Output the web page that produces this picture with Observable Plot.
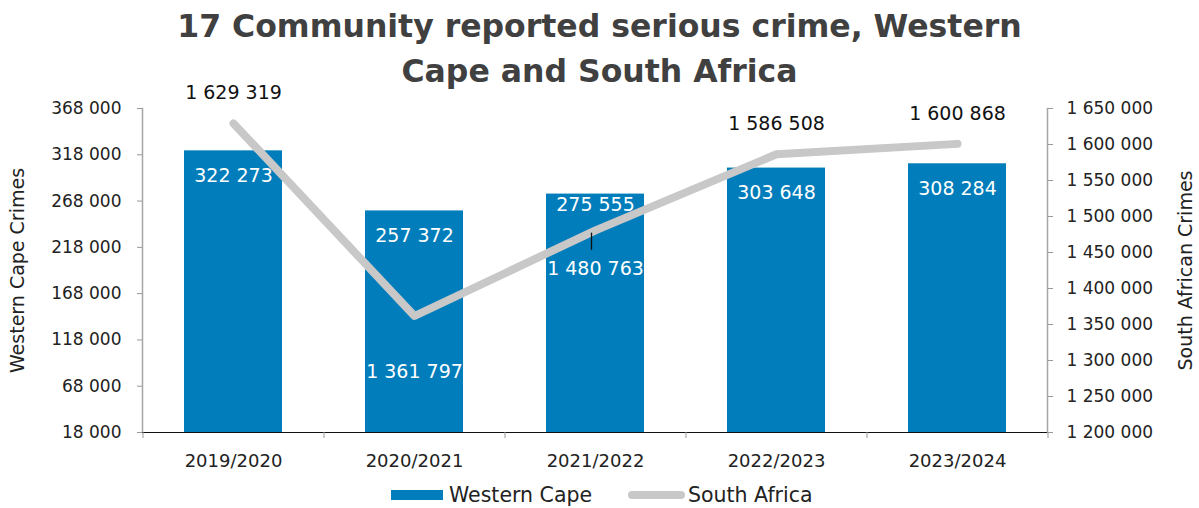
<!DOCTYPE html>
<html>
<head>
<meta charset="utf-8">
<script src="https://cdn.jsdelivr.net/npm/d3@7"></script>
<script src="https://cdn.jsdelivr.net/npm/@observablehq/plot@0.6"></script>
<style>
  html, body { margin: 0; padding: 0; background: #fff; }
  #wrap { position: relative; width: 1199px; height: 508px; overflow: hidden; font-family: "DejaVu Sans", sans-serif; }
  #title { position: absolute; left: 0; top: 4px; width: 1199px; text-align: center; font-weight: bold; font-size: 31.5px; line-height: 45px; color: #404040; z-index: 2; }
  #chart { position: absolute; left: 0; top: 0; }
  #legend { position: absolute; left: 0; top: 482px; width: 1199px; height: 26px; font-size: 20.5px; color: #222; }
  .sw { position: absolute; }
  .lt { position: absolute; top: 0px; line-height: 26px; }
</style>
</head>
<body>
<div id="wrap">
  <div id="title">17 Community reported serious crime, Western<br>Cape and South Africa</div>
  <div id="chart"></div>
  <div id="legend">
    <div class="sw" style="left:391px; top:8px; width:52px; height:10px; background:#007DBA;"></div>
    <div class="lt" style="left:449px;">Western Cape</div>
    <div class="sw" style="left:628px; top:9px; width:57px; height:8px; border-radius:4px; background:#C8C8C8;"></div>
    <div class="lt" style="left:688px;">South Africa</div>
  </div>
</div>
<script>
const years = ["2019/2020", "2020/2021", "2021/2022", "2022/2023", "2023/2024"];
const westernCape = [322273, 257372, 275555, 303648, 308284];
const southAfrica = [1629319, 1361797, 1480763, 1586508, 1600868];
const leftTicks = [18000, 68000, 118000, 168000, 218000, 268000, 318000, 368000];
const rightTicks = [1200000, 1250000, 1300000, 1350000, 1400000, 1450000, 1500000, 1550000, 1600000, 1650000];

const fmt = v => d3.format(",")(Math.round(v)).replace(/,/g, " ");
const L0 = leftTicks[0], L1 = leftTicks[leftTicks.length - 1];
const R0 = rightTicks[0], R1 = rightTicks[rightTicks.length - 1];
const toLeft = v => L0 + (v - R0) * (L1 - L0) / (R1 - R0);
const toRight = v => R0 + (v - L0) * (R1 - R0) / (L1 - L0);

const wc = years.map((y, i) => ({year: y, value: westernCape[i]}));
const sa = years.map((y, i) => ({year: y, value: southAfrica[i], left: toLeft(southAfrica[i])}));

const W = 1199, H = 482, ML = 142, MR = 152, MT = 108, MB = 50;
const step = (W - ML - MR) / years.length;

const above = new Set(["2019/2020", "2022/2023", "2023/2024"]);

const chart = Plot.plot({
  width: W, height: H,
  marginLeft: ML, marginRight: MR, marginTop: MT, marginBottom: MB,
  style: {fontFamily: "DejaVu Sans, sans-serif", fontSize: "17px", color: "#222", background: "transparent"},
  x: {domain: years, paddingInner: 0.46, paddingOuter: 0.23},
  y: {domain: [L0, L1]},
  marks: [
    Plot.frame({anchor: "left", stroke: "#a6a6a6", strokeWidth: 1.5}),
    Plot.frame({anchor: "right", stroke: "#a6a6a6", strokeWidth: 1.5}),
    Plot.barY(wc, {x: "year", y1: L0, y2: "value", fill: "#007DBA"}),
    Plot.ruleY([L0], {stroke: "#111", strokeWidth: 1.2}),
    Plot.ruleX(years, {x: d => d, y1: L0, y2: L0, insetBottom: -6, dx: -step / 2, stroke: "#999"}),
    Plot.ruleX([years[years.length - 1]], {x: d => d, y1: L0, y2: L0, insetBottom: -6, dx: step / 2, stroke: "#999"}),
    Plot.axisY(leftTicks, {anchor: "left", tickSize: 5, tickPadding: 16, stroke: "#999", fill: "#222", fontSize: 17, tickFormat: fmt, label: null}),
    Plot.axisY(rightTicks.map(toLeft), {anchor: "right", tickSize: 5, tickPadding: 14, stroke: "#999", fill: "#222", fontSize: 17, tickFormat: d => fmt(Math.round(toRight(d) / 1000) * 1000), label: null}),
    Plot.axisX({tickSize: 0, tickPadding: 22, fill: "#222", fontSize: 18, label: null}),
    Plot.text(["Western Cape Crimes"], {frameAnchor: "left", textAnchor: "middle", dx: -125, rotate: -90, fill: "#222", fontSize: 19}),
    Plot.text(["South African Crimes"], {frameAnchor: "right", textAnchor: "middle", dx: 138, rotate: -90, fill: "#222", fontSize: 19}),
    Plot.line(sa, {x: "year", y: "left", stroke: "#C8C8C8", strokeWidth: 8, strokeLinecap: "round", strokeLinejoin: "round"}),
    Plot.text(wc.filter(d => d.year !== "2021/2022"), {x: "year", y: "value", text: d => fmt(d.value), fill: "white", dy: 25, fontSize: 19}),
    Plot.text(wc.filter(d => d.year === "2021/2022"), {x: "year", y: "value", text: d => fmt(d.value), fill: "white", dy: 11, fontSize: 19}),
    Plot.text(sa.filter(d => above.has(d.year)), {x: "year", y: "left", text: d => fmt(d.value), fill: "#111", dy: -30, fontSize: 19}),
    Plot.text(sa.filter(d => d.year === "2020/2021"), {x: "year", y: "left", text: d => fmt(d.value), fill: "white", dy: 56, fontSize: 19}),
    Plot.text(sa.filter(d => d.year === "2021/2022"), {x: "year", y: "left", text: d => fmt(d.value), fill: "white", dy: 39, fontSize: 19}),
    Plot.link(sa.filter(d => d.year === "2021/2022"), {x1: "year", x2: "year", y1: d => d.left - 2500, y2: d => d.left - 21000, dx: -4, stroke: "#111", strokeWidth: 1.3})
  ]
});
document.getElementById("chart").appendChild(chart);
</script>
</body>
</html>
